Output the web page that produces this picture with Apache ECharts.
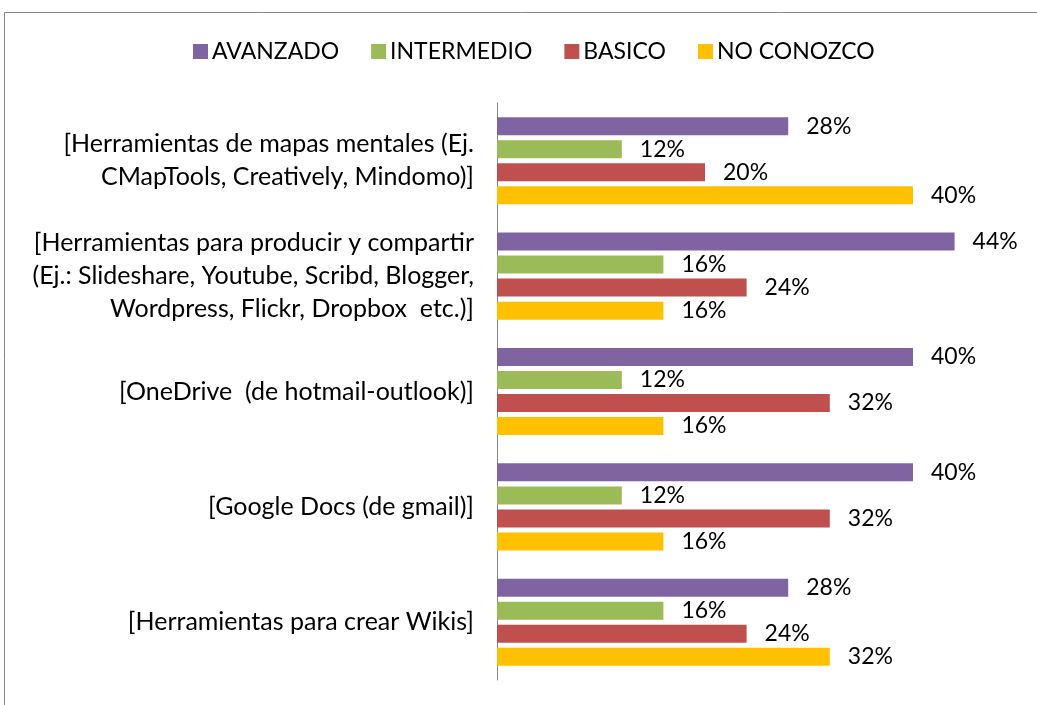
<!DOCTYPE html>
<html><head><meta charset="utf-8">
<script src="https://cdn.jsdelivr.net/npm/echarts@6/dist/echarts.min.js"></script>
<style>html,body{margin:0;padding:0;background:#fff}#c{width:1037px;height:705px}</style>
</head><body><div id="c"></div>
<script>
const categories = [
  "[Herramientas de mapas mentales (Ej.\nCMapTools, Creatively, Mindomo)]",
  "[Herramientas para producir y compartir\n(Ej.: Slideshare, Youtube, Scribd, Blogger,\nWordpress, Flickr, Dropbox  etc.)]",
  "[OneDrive  (de hotmail-outlook)]",
  "[Google Docs (de gmail)]",
  "[Herramientas para crear Wikis]"
];
const seriesNames = ["AVANZADO", "INTERMEDIO", "BASICO", "NO CONOZCO"];
const avanzado   = [28, 44, 40, 40, 28];
const intermedio = [12, 16, 12, 12, 16];
const basico     = [20, 24, 32, 32, 24];
const noConozco  = [40, 16, 16, 16, 32];
const colors = ["#8064A2", "#9BBB59", "#C0504D", "#FFC000"];
const FONT = "Lato";

const chart = echarts.init(document.getElementById('c'));
const values = [avanzado, intermedio, basico, noConozco];
chart.setOption({
  animation: false,
  textStyle: {fontFamily: FONT},
  color: colors,
  graphic: [{type: 'rect', shape: {x: 4.5, y: 12.5, width: 1200, height: 900},
    style: {fill: 'none', stroke: '#878787', lineWidth: 1}}],
  legend: {
    top: 35, left: 188, itemWidth: 15, itemHeight: 15, itemGap: 32,
    icon: 'rect',
    textStyle: {fontFamily: FONT, fontSize: 23, color: '#000', padding: [0, 0, 0, -1]},
    data: seriesNames
  },
  grid: {left: 497, right: 20, top: 103, bottom: 25, containLabel: false},
  xAxis: {type: 'value', min: 0, max: 50, show: false},
  yAxis: {
    type: 'category', inverse: true, data: categories,
    axisLine: {show: true, lineStyle: {color: '#868686', width: 1}},
    axisTick: {show: false},
    axisLabel: {fontFamily: FONT, fontSize: 25, color: '#000', lineHeight: 33, margin: 23, align: 'right'}
  },
  series: values.map((v, i) => ({
    name: seriesNames[i], type: 'bar', data: v,
    barWidth: 18, barGap: '28%', barCategoryGap: '20%',
    itemStyle: {color: colors[i]},
    label: {show: true, position: 'right', distance: 18, formatter: '{c}%',
      fontFamily: FONT, fontSize: 23, color: '#000'}
  }))
});
</script></body></html>
